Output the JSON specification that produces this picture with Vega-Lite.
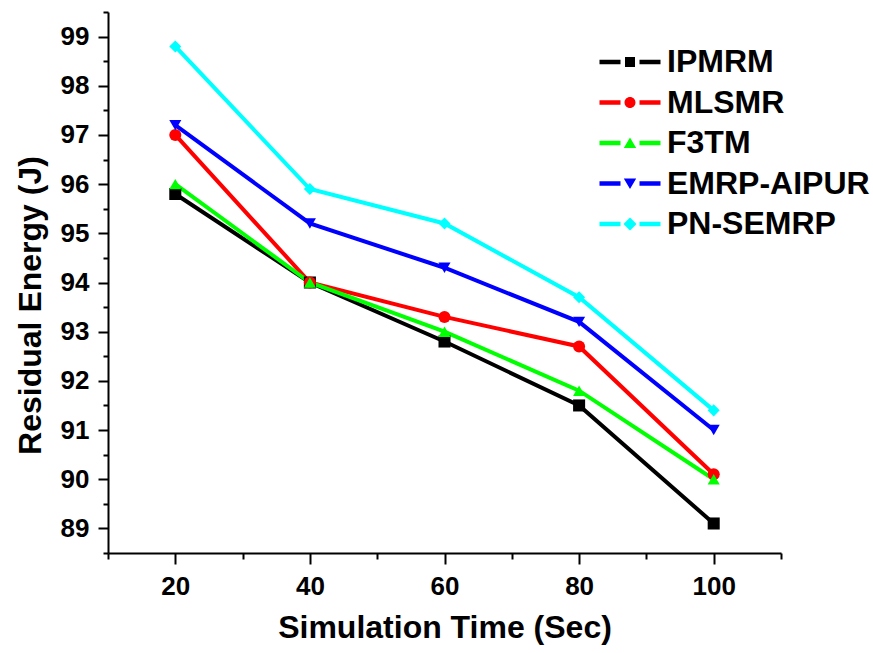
{
  "$schema": "https://vega.github.io/schema/vega-lite/v6.json",
  "autosize": {"type": "none"},
  "width": 673,
  "height": 541,
  "padding": {"left": 108, "top": 12, "right": 92, "bottom": 100},
  "background": "white",
  "config": {
    "view": {"stroke": null},
    "font": "Liberation Sans",
    "axis": {
      "grid": false,
      "domainColor": "#000000",
      "domainWidth": 2,
      "tickColor": "#000000",
      "tickWidth": 2,
      "labelFont": "Liberation Sans",
      "labelFontWeight": "bold",
      "labelFontSize": 26,
      "labelColor": "#000000",
      "labelOverlap": false,
      "labelBound": false,
      "labelFlush": false,
      "titleFont": "Liberation Sans",
      "titleFontWeight": "bold",
      "titleFontSize": 32,
      "titleColor": "#000000"
    },
    "legend": {
      "labelFont": "Liberation Sans",
      "labelFontWeight": "bold",
      "labelFontSize": 32,
      "labelColor": "#000000",
      "labelLimit": 0
    }
  },
  "data": {
    "values": [
      {"t": 20, "e": 95.8, "s": "IPMRM"},
      {"t": 40, "e": 94.0, "s": "IPMRM"},
      {"t": 60, "e": 92.8, "s": "IPMRM"},
      {"t": 80, "e": 91.5, "s": "IPMRM"},
      {"t": 100, "e": 89.1, "s": "IPMRM"},
      {"t": 20, "e": 97.0, "s": "MLSMR"},
      {"t": 40, "e": 94.0, "s": "MLSMR"},
      {"t": 60, "e": 93.3, "s": "MLSMR"},
      {"t": 80, "e": 92.7, "s": "MLSMR"},
      {"t": 100, "e": 90.1, "s": "MLSMR"},
      {"t": 20, "e": 96.0, "s": "F3TM"},
      {"t": 40, "e": 94.0, "s": "F3TM"},
      {"t": 60, "e": 93.0, "s": "F3TM"},
      {"t": 80, "e": 91.8, "s": "F3TM"},
      {"t": 100, "e": 90.0, "s": "F3TM"},
      {"t": 20, "e": 97.2, "s": "EMRP-AIPUR"},
      {"t": 40, "e": 95.2, "s": "EMRP-AIPUR"},
      {"t": 60, "e": 94.3, "s": "EMRP-AIPUR"},
      {"t": 80, "e": 93.2, "s": "EMRP-AIPUR"},
      {"t": 100, "e": 91.0, "s": "EMRP-AIPUR"},
      {"t": 20, "e": 98.8, "s": "PN-SEMRP"},
      {"t": 40, "e": 95.9, "s": "PN-SEMRP"},
      {"t": 60, "e": 95.2, "s": "PN-SEMRP"},
      {"t": 80, "e": 93.7, "s": "PN-SEMRP"},
      {"t": 100, "e": 91.4, "s": "PN-SEMRP"}
    ]
  },
  "encoding": {
    "x": {
      "field": "t",
      "type": "quantitative",
      "scale": {"domain": [10, 110], "nice": false, "zero": false},
      "axis": {
        "title": "Simulation Time (Sec)",
        "values": [10, 20, 30, 40, 50, 60, 70, 80, 90, 100, 110],
        "labelExpr": "datum.value % 20 === 0 ? datum.label : ''",
        "tickSize": {"condition": {"test": "datum.value % 20 === 0", "value": 11}, "value": 6},
        "labelPadding": {"condition": {"test": "datum.value % 20 === 0", "value": 9}, "value": 14},
        "titleX": 336.5,
        "titleY": 84,
        "titleAlign": "center",
        "titleBaseline": "alphabetic"
      }
    },
    "y": {
      "field": "e",
      "type": "quantitative",
      "scale": {"domain": [88.5, 99.5], "nice": false, "zero": false},
      "axis": {
        "title": "Residual Energy (J)",
        "values": [88.5, 89, 89.5, 90, 90.5, 91, 91.5, 92, 92.5, 93, 93.5, 94, 94.5, 95, 95.5, 96, 96.5, 97, 97.5, 98, 98.5, 99, 99.5],
        "labelExpr": "datum.value % 1 === 0 ? format(datum.value, 'd') : ''",
        "tickSize": {"condition": {"test": "datum.value % 1 === 0", "value": 10}, "value": 5},
        "labelPadding": {"condition": {"test": "datum.value % 1 === 0", "value": 9}, "value": 14},
        "titleX": -68,
        "titleY": 293,
        "titleAngle": -90,
        "titleAlign": "center",
        "titleBaseline": "alphabetic"
      }
    }
  },
  "layer": [
    {
      "mark": {"type": "line", "strokeWidth": 4, "opacity": 1},
      "encoding": {
        "color": {
          "field": "s",
          "type": "nominal",
          "scale": {
            "domain": ["IPMRM", "MLSMR", "F3TM", "EMRP-AIPUR", "PN-SEMRP"],
            "range": ["#000000", "#ff0000", "#00ff00", "#0000ff", "#00ffff"]
          },
          "legend": null
        }
      }
    },
    {
      "mark": {"type": "point", "filled": true, "opacity": 1, "size": 145, "strokeWidth": 0},
      "encoding": {
        "color": {
          "field": "s",
          "type": "nominal",
          "scale": {
            "domain": ["IPMRM", "MLSMR", "F3TM", "EMRP-AIPUR", "PN-SEMRP"],
            "range": ["#000000", "#ff0000", "#00ff00", "#0000ff", "#00ffff"]
          },
          "legend": null
        },
        "shape": {
          "field": "s",
          "type": "nominal",
          "scale": {
            "domain": ["IPMRM", "MLSMR", "F3TM", "EMRP-AIPUR", "PN-SEMRP"],
            "range": ["square", "circle", "triangle-up", "triangle-down", "diamond"]
          },
          "legend": null
        }
      }
    },
    {
      "transform": [{"filter": "datum.t > 1000"}],
      "mark": {"type": "point", "filled": true, "opacity": 1, "size": 400, "strokeWidth": 0},
      "encoding": {
        "fill": {
          "field": "s",
          "type": "nominal",
          "scale": {
            "domain": ["IPMRM", "MLSMR", "F3TM", "EMRP-AIPUR", "PN-SEMRP"],
            "range": ["#000000", "#ff0000", "#00ff00", "#0000ff", "#00ffff"]
          },
          "legend": {
            "title": null,
            "orient": "none",
            "legendX": 506,
            "legendY": 34,
            "padding": 0,
            "offset": 0,
            "symbolSize": 400,
            "symbolStrokeWidth": 0,
            "symbolOpacity": 1,
            "labelOffset": 21,
            "rowPadding": 8.5,
            "labelBaseline": "middle"
          }
        },
        "shape": {
          "field": "s",
          "type": "nominal",
          "scale": {
            "domain": ["IPMRM", "MLSMR", "F3TM", "EMRP-AIPUR", "PN-SEMRP"],
            "range": [
              "M-3.05,-0.22H-0.95V0.22H-3.05Z M0.95,-0.22H3.05V0.22H0.95Z M-0.5,-0.5H0.5V0.5H-0.5Z",
              "M-3.05,-0.22H-0.95V0.22H-3.05Z M0.95,-0.22H3.05V0.22H0.95Z M-0.55,0A0.55,0.55,0,1,0,0.55,0A0.55,0.55,0,1,0,-0.55,0Z",
              "M-3.05,-0.22H-0.95V0.22H-3.05Z M0.95,-0.22H3.05V0.22H0.95Z M0,-0.55L0.62,0.5H-0.62Z",
              "M-3.05,-0.22H-0.95V0.22H-3.05Z M0.95,-0.22H3.05V0.22H0.95Z M0,0.55L0.62,-0.5H-0.62Z",
              "M-3.05,-0.22H-0.95V0.22H-3.05Z M0.95,-0.22H3.05V0.22H0.95Z M0,-0.65L0.65,0L0,0.65L-0.65,0Z"
            ]
          },
          "legend": {
            "title": null,
            "orient": "none",
            "legendX": 506,
            "legendY": 34,
            "padding": 0,
            "offset": 0,
            "symbolSize": 400,
            "symbolStrokeWidth": 0,
            "symbolOpacity": 1,
            "labelOffset": 21,
            "rowPadding": 8.5,
            "labelBaseline": "middle"
          }
        }
      }
    }
  ],
  "resolve": {
    "scale": {"shape": "independent", "fill": "independent"},
    "legend": {"shape": "independent", "fill": "independent"}
  }
}
